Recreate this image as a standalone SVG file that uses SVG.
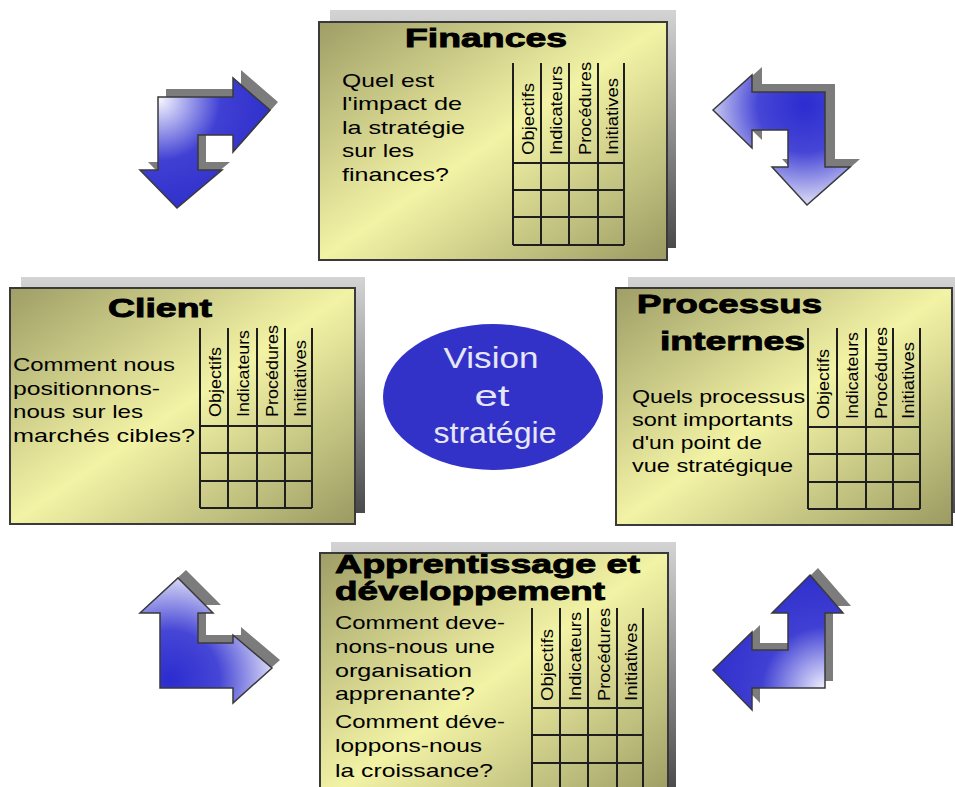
<svg xmlns="http://www.w3.org/2000/svg" width="955" height="787" viewBox="0 0 955 787">
<defs>
<linearGradient id="boxg" x1="0" y1="0" x2="1" y2="1">
<stop offset="0" stop-color="#9e9e66"/>
<stop offset="0.5" stop-color="#f3f3a6"/>
<stop offset="1" stop-color="#9a9a62"/>
</linearGradient>
<linearGradient id="shg" x1="0" y1="0" x2="0" y2="1">
<stop offset="0" stop-color="#d4d4d4"/>
<stop offset="1" stop-color="#4a4a4a"/>
</linearGradient>
<radialGradient id="agTR" gradientUnits="userSpaceOnUse" cx="805" cy="105" r="105">
<stop offset="0" stop-color="#2c2cd0"/>
<stop offset="0.45" stop-color="#4646d6"/>
<stop offset="1" stop-color="#ececfa"/>
</radialGradient>
<radialGradient id="agBL" gradientUnits="userSpaceOnUse" cx="170" cy="680" r="110">
<stop offset="0" stop-color="#2c2cd0"/>
<stop offset="0.45" stop-color="#4646d6"/>
<stop offset="1" stop-color="#ececfa"/>
</radialGradient>
<radialGradient id="agTL" gradientUnits="userSpaceOnUse" cx="160" cy="100" r="110">
<stop offset="0" stop-color="#f4f4ff"/>
<stop offset="0.55" stop-color="#4040d4"/>
<stop offset="1" stop-color="#3030cc"/>
</radialGradient>
<radialGradient id="agBR" gradientUnits="userSpaceOnUse" cx="825" cy="690" r="115">
<stop offset="0" stop-color="#f4f4ff"/>
<stop offset="0.55" stop-color="#4040d4"/>
<stop offset="1" stop-color="#3030cc"/>
</radialGradient>
<style>
.box{fill:url(#boxg);stroke:#3a3a3a;stroke-width:2}
.sh{fill:url(#shg)}
.title{font-family:"Liberation Sans",Arial,sans-serif;font-weight:bold;font-size:26px;fill:#000;stroke:#000;stroke-width:0.9}
.q{font-family:"Liberation Sans",Arial,sans-serif;font-size:19px;fill:#000}
.hd{font-family:"Liberation Sans",Arial,sans-serif;font-size:17px;fill:#000}
.grid{stroke:#1e1e1e;stroke-width:2;fill:none}
.ashadow{fill:#7c7c7c}
.arrow{stroke:#3a3a3a;stroke-width:1.5}
.vis{font-family:"Liberation Sans",Arial,sans-serif;font-size:30px;fill:#e6e6f6;text-anchor:middle}
</style>
</defs>
<rect width="955" height="787" fill="#ffffff"/>

<g id="connectors">
<g id="arrow-tl">
<polygon class="ashadow" transform="translate(8,-8)" points="158,97 233,97 233,78 270,110 233,152 233,135 198,135 198,170 222,170 177,208 140,170 158,170"/>
<polygon class="arrow" fill="url(#agTL)" points="158,97 233,97 233,78 270,110 233,152 233,135 198,135 198,170 222,170 177,208 140,170 158,170"/>
</g>
<g id="arrow-tr">
<polygon class="ashadow" transform="translate(10,-8)" points="713,110 752,75 752,92 825,92 825,167 850,167 807,205 772,167 788,167 788,130 752,130 752,148"/>
<polygon class="arrow" fill="url(#agTR)" points="713,110 752,75 752,92 825,92 825,167 850,167 807,205 772,167 788,167 788,130 752,130 752,148"/>
</g>
<g id="arrow-bl">
<polygon class="ashadow" transform="translate(8,-8)" points="178,578 213,613 198,613 198,643 233,643 233,635 272,668 233,703 233,688 160,688 160,613 140,613"/>
<polygon class="arrow" fill="url(#agBL)" points="178,578 213,613 198,613 198,643 233,643 233,635 272,668 233,703 233,688 160,688 160,613 140,613"/>
</g>
<g id="arrow-br">
<polygon class="ashadow" transform="translate(8,-7)" points="810,575 843,613 825,613 825,688 752,688 752,710 713,670 752,632 752,650 788,650 788,613 772,613"/>
<polygon class="arrow" fill="url(#agBR)" points="810,575 843,613 825,613 825,688 752,688 752,710 713,670 752,632 752,650 788,650 788,613 772,613"/>
</g>
</g>

<g id="finances">
<rect class="sh" x="330" y="10" width="346" height="238"/>
<rect class="box" x="319" y="22" width="348" height="238"/>
<text class="title" x="405" y="47" textLength="162" lengthAdjust="spacingAndGlyphs">Finances</text>
<text class="q" x="342" y="87" textLength="92" lengthAdjust="spacingAndGlyphs">Quel est</text>
<text class="q" x="342" y="110" textLength="120" lengthAdjust="spacingAndGlyphs">l'impact de</text>
<text class="q" x="342" y="134" textLength="123" lengthAdjust="spacingAndGlyphs">la stratégie</text>
<text class="q" x="342" y="157" textLength="72" lengthAdjust="spacingAndGlyphs">sur les</text>
<text class="q" x="342" y="181" textLength="107" lengthAdjust="spacingAndGlyphs">finances?</text>
<path class="grid" d="M513,63V245M541,63V245M569,63V245M598,63V245M624,63V245M513,163H624M513,190H624M513,217H624M513,245H624"/>
<text class="hd" transform="translate(534,155) rotate(-90)" textLength="72" lengthAdjust="spacingAndGlyphs">Objectifs</text>
<text class="hd" transform="translate(562,155) rotate(-90)" textLength="89" lengthAdjust="spacingAndGlyphs">Indicateurs</text>
<text class="hd" transform="translate(591,155) rotate(-90)" textLength="93" lengthAdjust="spacingAndGlyphs">Procédures</text>
<text class="hd" transform="translate(618,155) rotate(-90)" textLength="77" lengthAdjust="spacingAndGlyphs">Initiatives</text>
</g>

<g id="client">
<rect class="sh" x="21" y="277" width="344" height="236"/>
<rect class="box" x="10" y="288" width="345" height="236"/>
<text class="title" x="108" y="317" textLength="104" lengthAdjust="spacingAndGlyphs">Client</text>
<text class="q" x="13" y="371" textLength="162" lengthAdjust="spacingAndGlyphs">Comment nous</text>
<text class="q" x="13" y="395" textLength="147" lengthAdjust="spacingAndGlyphs">positionnons-</text>
<text class="q" x="13" y="418" textLength="130" lengthAdjust="spacingAndGlyphs">nous sur les</text>
<text class="q" x="13" y="442" textLength="182" lengthAdjust="spacingAndGlyphs">marchés cibles?</text>
<path class="grid" d="M200,328V508M228,328V508M257,328V508M285,328V508M312,328V508M200,426H312M200,453H312M200,481H312M200,508H312"/>
<text class="hd" transform="translate(221,417) rotate(-90)" textLength="70" lengthAdjust="spacingAndGlyphs">Objectifs</text>
<text class="hd" transform="translate(249,417) rotate(-90)" textLength="87" lengthAdjust="spacingAndGlyphs">Indicateurs</text>
<text class="hd" transform="translate(278,417) rotate(-90)" textLength="92" lengthAdjust="spacingAndGlyphs">Procédures</text>
<text class="hd" transform="translate(306,417) rotate(-90)" textLength="77" lengthAdjust="spacingAndGlyphs">Initiatives</text>
</g>

<g id="processus">
<rect class="sh" x="628" y="277" width="330" height="236"/>
<rect class="box" x="616" y="288" width="336" height="237"/>
<text class="title" x="637" y="313" textLength="185" lengthAdjust="spacingAndGlyphs">Processus</text>
<text class="title" x="660" y="350" textLength="145" lengthAdjust="spacingAndGlyphs">internes</text>
<text class="q" x="632" y="403" textLength="173" lengthAdjust="spacingAndGlyphs">Quels processus</text>
<text class="q" x="632" y="426" textLength="161" lengthAdjust="spacingAndGlyphs">sont importants</text>
<text class="q" x="632" y="449" textLength="130" lengthAdjust="spacingAndGlyphs">d'un point de</text>
<text class="q" x="632" y="472" textLength="161" lengthAdjust="spacingAndGlyphs">vue stratégique</text>
<path class="grid" d="M808,328V509M837,328V509M866,328V509M893,328V509M920,328V509M808,427H920M808,454H920M808,482H920M808,509H920"/>
<text class="hd" transform="translate(829,419) rotate(-90)" textLength="70" lengthAdjust="spacingAndGlyphs">Objectifs</text>
<text class="hd" transform="translate(858,419) rotate(-90)" textLength="87" lengthAdjust="spacingAndGlyphs">Indicateurs</text>
<text class="hd" transform="translate(887,419) rotate(-90)" textLength="92" lengthAdjust="spacingAndGlyphs">Procédures</text>
<text class="hd" transform="translate(914,419) rotate(-90)" textLength="77" lengthAdjust="spacingAndGlyphs">Initiatives</text>
</g>

<g id="apprentissage">
<rect class="sh" x="331" y="542" width="345" height="250"/>
<rect class="box" x="320" y="553" width="348" height="250"/>
<text class="title" x="335" y="573" textLength="305" lengthAdjust="spacingAndGlyphs">Apprentissage et</text>
<text class="title" x="335" y="600" textLength="270" lengthAdjust="spacingAndGlyphs">développement</text>
<text class="q" x="335" y="629" textLength="170" lengthAdjust="spacingAndGlyphs">Comment deve-</text>
<text class="q" x="335" y="653" textLength="160" lengthAdjust="spacingAndGlyphs">nons-nous une</text>
<text class="q" x="335" y="677" textLength="137" lengthAdjust="spacingAndGlyphs">organisation</text>
<text class="q" x="335" y="700" textLength="140" lengthAdjust="spacingAndGlyphs">apprenante?</text>
<text class="q" x="335" y="728" textLength="170" lengthAdjust="spacingAndGlyphs">Comment déve-</text>
<text class="q" x="335" y="752" textLength="147" lengthAdjust="spacingAndGlyphs">loppons-nous</text>
<text class="q" x="335" y="777" textLength="158" lengthAdjust="spacingAndGlyphs">la croissance?</text>
<path class="grid" d="M532,608V790M560,608V790M588,608V790M617,608V790M643,608V790M532,708H643M532,735H643M532,763H643"/>
<text class="hd" transform="translate(553,701) rotate(-90)" textLength="72" lengthAdjust="spacingAndGlyphs">Objectifs</text>
<text class="hd" transform="translate(581,701) rotate(-90)" textLength="89" lengthAdjust="spacingAndGlyphs">Indicateurs</text>
<text class="hd" transform="translate(610,701) rotate(-90)" textLength="93" lengthAdjust="spacingAndGlyphs">Procédures</text>
<text class="hd" transform="translate(637,701) rotate(-90)" textLength="78" lengthAdjust="spacingAndGlyphs">Initiatives</text>
</g>

<g id="vision">
<ellipse cx="493" cy="397" rx="110" ry="73" fill="#3232c8"/>
<text class="vis" x="491" y="368" textLength="95" lengthAdjust="spacingAndGlyphs">Vision</text>
<text class="vis" x="492" y="406" textLength="35" lengthAdjust="spacingAndGlyphs">et</text>
<text class="vis" x="495" y="443" textLength="123" lengthAdjust="spacingAndGlyphs">stratégie</text>
</g>
</svg>
